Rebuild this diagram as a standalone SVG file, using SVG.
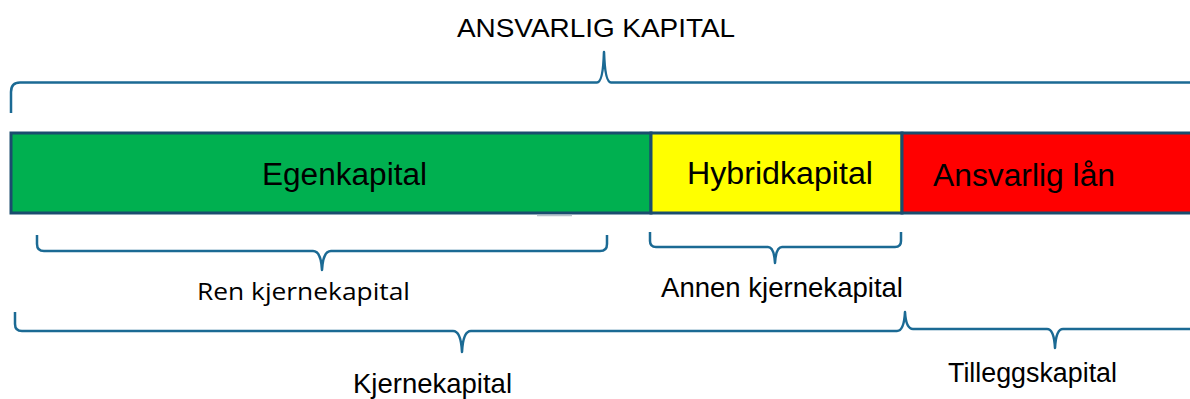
<svg xmlns="http://www.w3.org/2000/svg" width="1190" height="399" viewBox="0 0 1190 399">
  <style>
    .lbl { font-family: "Liberation Sans", Arial, sans-serif; fill: #000; }
    .lbl2 { font-family: "Open Sans", "Noto Sans", sans-serif; fill: #000; }
    .brace { fill: none; stroke: #1b6a94; stroke-width: 2.5; stroke-linejoin: round; stroke-linecap: butt; }
    .seg { stroke: #1a4d6e; stroke-width: 3; }
  </style>
  <rect width="1190" height="399" fill="#ffffff"/>

  <!-- overall heading -->
  <g id="title">
    <text class="lbl" x="457" y="37" font-size="26" textLength="278" lengthAdjust="spacingAndGlyphs">ANSVARLIG KAPITAL</text>
  </g>

  <!-- capital bar segments -->
  <g id="egenkapital">
    <rect class="seg" x="11" y="133" width="640" height="80" fill="#00b050"/>
    <text class="lbl" x="262" y="185" font-size="31" textLength="165" lengthAdjust="spacingAndGlyphs">Egenkapital</text>
  </g>
  <g id="hybridkapital">
    <rect class="seg" x="651" y="133" width="251" height="80" fill="#ffff00"/>
    <text class="lbl" x="687" y="184" font-size="31" textLength="186" lengthAdjust="spacingAndGlyphs">Hybridkapital</text>
  </g>
  <g id="ansvarlig-laan">
    <rect class="seg" x="902" y="133" width="300" height="80" fill="#ff0000"/>
    <text class="lbl" x="933" y="186" font-size="31" textLength="182" lengthAdjust="spacingAndGlyphs">Ansvarlig lån</text>
  </g>
  <line x1="537" y1="215.5" x2="572" y2="215.5" stroke="#b8c3cc" stroke-width="1.5"/>

  <!-- grouping braces -->
  <g id="connectors">
    <path class="brace" d="M11,113 L11,92 Q11,82.5 20,82.5 L597,82.5 Q603,82.5 604,52 Q605,82.5 611,82.5 L1195,82.5"/>
    <path class="brace" stroke-width="3" d="M37,235 L37,244 Q37,251 44,251 L313,251 Q321,251 322,270 Q323,251 331,251 L600,251 Q607,251 607,244 L607,235"/>
    <path class="brace" d="M650,232 L650,241 Q650,247 656,247 L768,247 Q774,247 775,263 Q776,247 782,247 L895,247 Q901,247 901,241 L901,232"/>
    <path class="brace" d="M15,312 L15,324 Q15,331 22,331 L453,331 Q461,331 462,352 Q463,331 471,331 L897,331 Q904,331 905,312 Q906,329 913,329 L1047,329 Q1054,329 1055,348 Q1056,329 1063,329 L1195,329"/>
  </g>

  <!-- brace labels -->
  <g id="ren-kjernekapital">
    <text class="lbl2" x="197" y="300" font-size="23" textLength="213" lengthAdjust="spacingAndGlyphs">Ren kjernekapital</text>
  </g>
  <g id="annen-kjernekapital">
    <text class="lbl" x="661" y="297" font-size="27.5" textLength="242" lengthAdjust="spacingAndGlyphs">Annen kjernekapital</text>
  </g>
  <g id="kjernekapital">
    <text class="lbl" x="353" y="393" font-size="27.5" textLength="159" lengthAdjust="spacingAndGlyphs">Kjernekapital</text>
  </g>
  <g id="tilleggskapital">
    <text class="lbl" x="948" y="382" font-size="27" textLength="169" lengthAdjust="spacingAndGlyphs">Tilleggskapital</text>
  </g>
</svg>
